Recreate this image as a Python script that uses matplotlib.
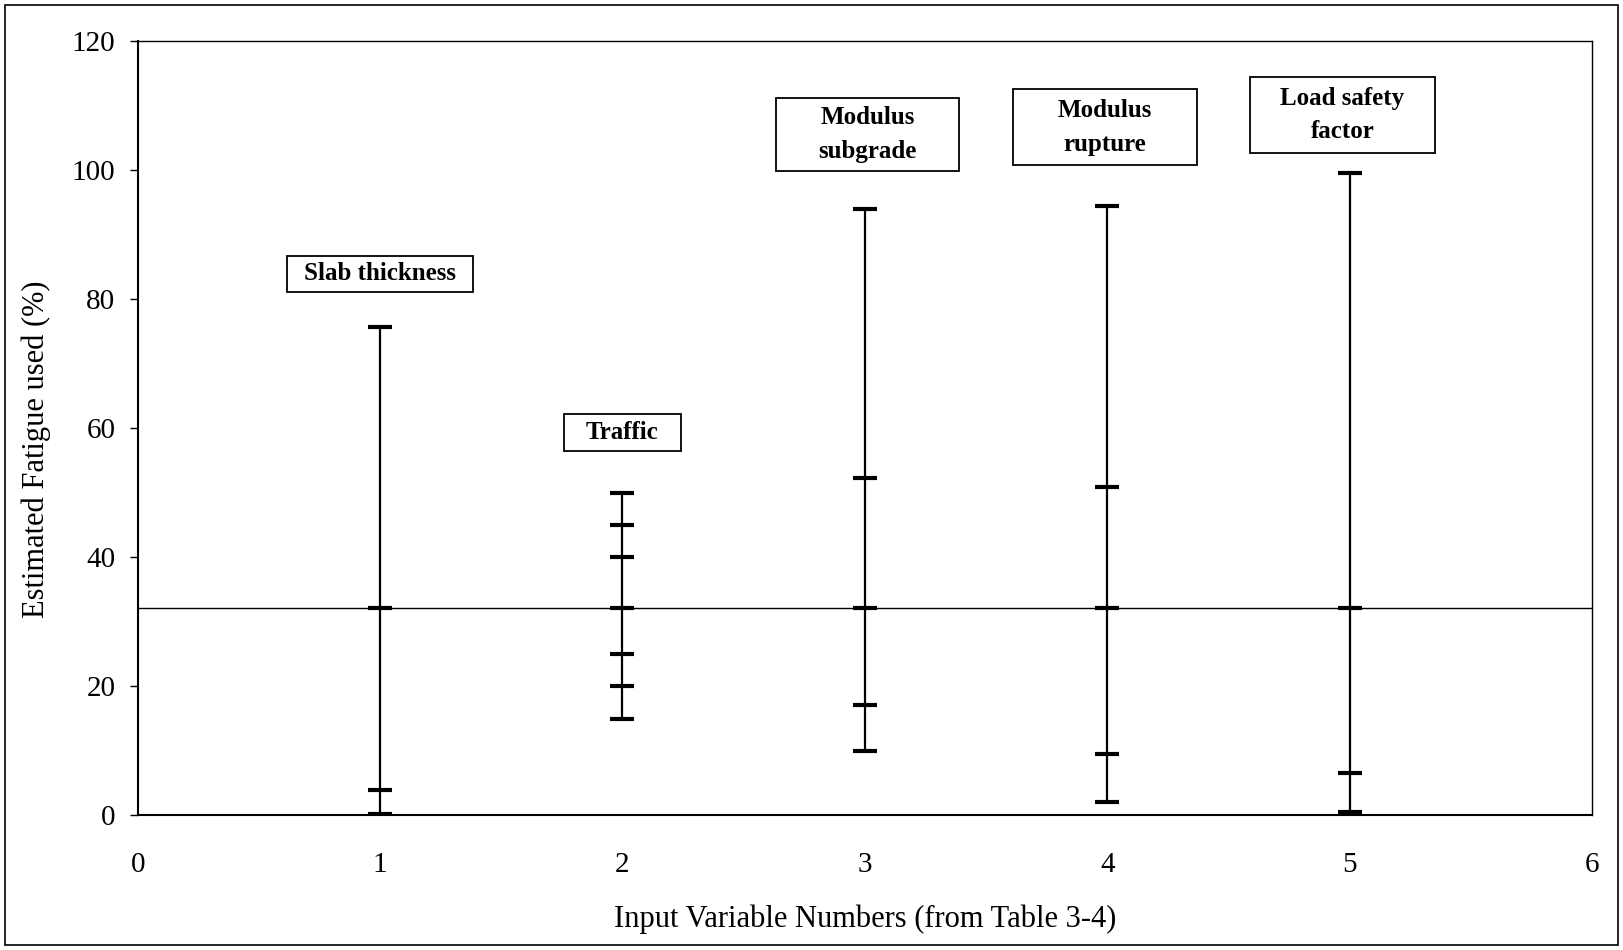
import matplotlib
matplotlib.use('Agg')
import matplotlib.pyplot as plt
from matplotlib.patches import Rectangle

plt.rcParams['font.family'] = ['Liberation Serif', 'DejaVu Serif']

# input variable numbers and the fatigue values marked on each range
var_numbers = [1, 2, 3, 4, 5]
slab_thickness = [0.3, 4.0, 32.2, 75.8]
traffic = [15, 20, 25, 32.2, 40, 45, 50]
modulus_subgrade = [10.0, 17.2, 32.2, 52.3, 94.0]
modulus_rupture = [2.1, 9.6, 32.2, 50.9, 94.5]
load_safety = [0.6, 6.6, 32.2, 99.6]
fatigue_values = [slab_thickness, traffic, modulus_subgrade, modulus_rupture, load_safety]

baseline = 32.2

var_names = ['Slab thickness', 'Traffic', 'Modulus\nsubgrade', 'Modulus\nrupture', 'Load safety\nfactor']
label_x = [1.0, 2.0, 3.01, 3.99, 4.97]
label_y = [84.0, 59.4, 105.6, 106.7, 108.6]

# box sizes in data units (layout only)
box_w = [0.77, 0.48, 0.756, 0.76, 0.764]
box_h = [5.6, 5.8, 11.3, 11.8, 11.9]

fig = plt.figure(figsize=(16.23, 9.5), dpi=100)
ax = fig.add_axes([0.0848, 0.1416, 0.8962, 0.8148])

for x, vals in zip(var_numbers, fatigue_values):
    ax.vlines(x, min(vals), max(vals), color='black', linewidth=1.6, zorder=3)
    ax.plot([x] * len(vals), vals, linestyle='none', marker='_',
            markersize=17, markeredgewidth=3, color='black', zorder=4)

ax.axhline(baseline, color='black', linewidth=1.0, zorder=2)

for x, y, name, w, h in zip(label_x, label_y, var_names, box_w, box_h):
    ax.add_patch(Rectangle((x - w / 2, y - h / 2), w, h, facecolor='white',
                           edgecolor='black', linewidth=1.3, zorder=5))
    ax.text(x, y, name, ha='center', va='center', fontsize=18, fontweight='bold',
            linespacing=1.6, zorder=6)

ax.set_xlim(0, 6)
ax.set_ylim(0, 120)
ax.set_xticks(range(0, 7))
ax.set_yticks(range(0, 121, 20))
ax.tick_params(axis='x', length=0, pad=26, labelsize=21)
ax.tick_params(axis='y', direction='out', length=6, width=1, pad=10, labelsize=21)
for s in ax.spines.values():
    s.set_linewidth(1.0)
ax.spines['left'].set_linewidth(1.5)
ax.spines['bottom'].set_linewidth(1.5)

fig.text(0.533, 0.0327, 'Input Variable Numbers (from Table 3-4)', ha='center',
         va='center', fontsize=22)
fig.text(0.0225, 0.527, 'Estimated Fatigue used (%)', ha='center', va='center',
         rotation=90, fontsize=22)

fig.patches.append(Rectangle((0.003, 0.005), 0.994, 0.99, transform=fig.transFigure,
                             fill=False, edgecolor='black', linewidth=1.2))

fig.savefig('out.png', dpi=100)
